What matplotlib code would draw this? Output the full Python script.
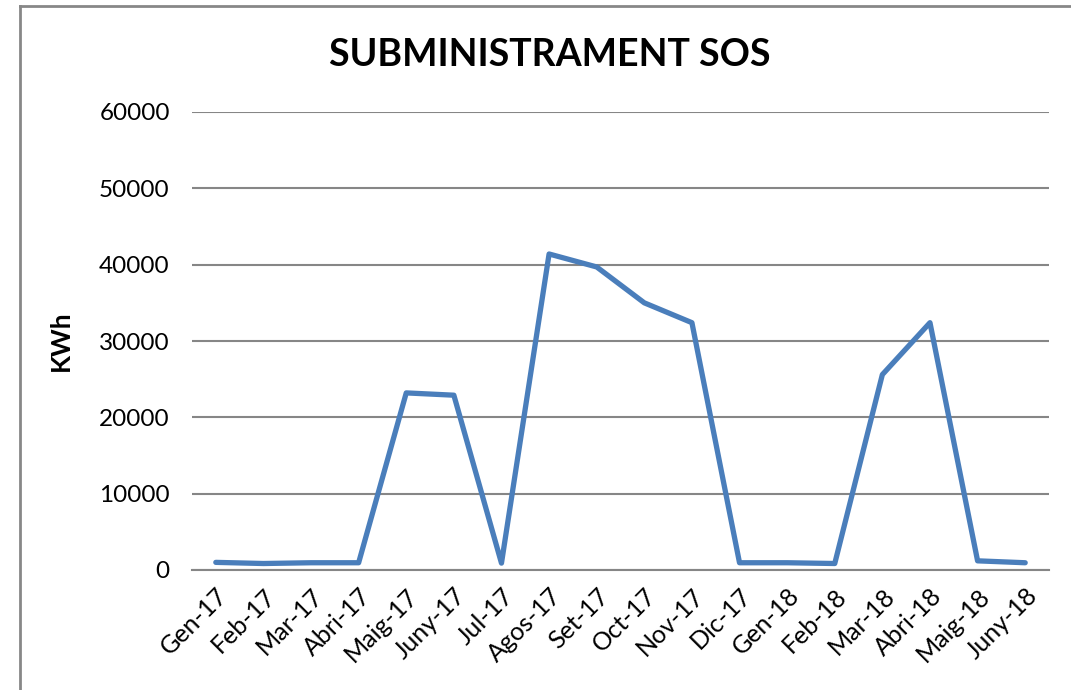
import matplotlib
matplotlib.use("Agg")
import matplotlib.pyplot as plt
from matplotlib.lines import Line2D

months = ["Gen-17", "Feb-17", "Mar-17", "Abri-17", "Maig-17", "Juny-17",
          "Jul-17", "Agos-17", "Set-17", "Oct-17", "Nov-17", "Dic-17",
          "Gen-18", "Feb-18", "Mar-18", "Abri-18", "Maig-18", "Juny-18"]
kwh = [1000, 850, 950, 950, 23200, 22900,
       900, 41400, 39700, 35000, 32400, 950,
       950, 850, 25600, 32400, 1200, 950]
yticks = [0, 10000, 20000, 30000, 40000, 50000, 60000]

plt.rcParams['font.family'] = ['Lato', 'DejaVu Sans']

W, H = 1071, 690
fig = plt.figure(figsize=(W / 100, H / 100), dpi=100)
ax = fig.add_axes([192 / W, 1 - 570 / H, (1049 - 192) / W, (570 - 112) / H])

x = list(range(len(months)))
ax.plot(x, kwh, color='#4A7EBB', linewidth=3.8,
        solid_joinstyle='round', solid_capstyle='round')

ax.set_xlim(-0.5, len(months) - 0.5)
ax.set_ylim(0, 60000)
ax.set_yticks(yticks)
ax.set_yticklabels([str(v) for v in yticks], fontsize=17.5)
ax.yaxis.grid(True, color='#868686', linewidth=1.5)
ax.set_axisbelow(True)
ax.set_xticks(x)
ax.set_xticklabels(months, rotation=45, ha='right', rotation_mode='anchor', fontsize=18)
ax.tick_params(axis='both', length=0)
ax.tick_params(axis='y', pad=16)
ax.tick_params(axis='x', pad=10)
for s in ['top', 'right', 'left']:
    ax.spines[s].set_visible(False)
ax.spines['bottom'].set_color('#868686')
ax.spines['bottom'].set_linewidth(1.5)

ax.set_ylabel('KWh', fontsize=19, fontweight='bold')
ax.yaxis.set_label_coords((73 - 192) / 857, 0.5)
fig.text(550 / W, 1 - 55 / H, 'SUBMINISTRAMENT SOS', fontsize=27,
         fontweight='bold', ha='center', va='center')

# chart frame: only left and top edges are inside the picture
fx, fy = 20 / W, 1 - 6 / H
fig.add_artist(Line2D([fx, fx], [0, fy], transform=fig.transFigure,
                      color='#878787', linewidth=2))
fig.add_artist(Line2D([fx, 1], [fy, fy], transform=fig.transFigure,
                      color='#878787', linewidth=2))

fig.savefig('out.png', dpi=100)
